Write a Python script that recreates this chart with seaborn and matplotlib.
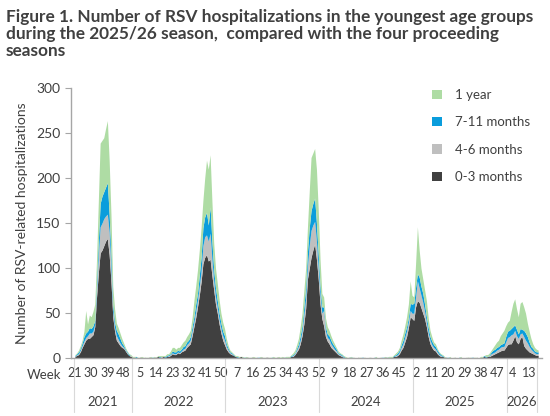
import numpy as np
import pandas as pd
import seaborn as sns
import matplotlib.pyplot as plt
import matplotlib.transforms as mtransforms
from matplotlib.patches import Patch

# weekly counts, 2021 w21 -> 2026 w17 (one value per week)
# season 2021 (w21-w52)
m0_3_a = [2, 3, 4, 7, 12, 16, 20, 22, 22, 24, 26, 35, 68, 95, 117, 120, 125, 130, 133, 115, 85, 46, 30, 20, 17, 14, 12, 11, 8, 5, 3, 2]
m4_6_a = [0, 1, 1, 2, 2, 3, 3, 3, 6, 4, 4, 3, 8, 20, 29, 30, 30, 28, 27, 25, 15, 6, 4, 5, 4, 3, 2, 1, 1, 1, 0, 1]
m7_11_a = [1, 1, 2, 2, 3, 5, 5, 5, 6, 5, 6, 4, 9, 15, 26, 30, 30, 32, 35, 20, 15, 8, 6, 6, 6, 5, 3, 2, 1, 1, 1, 0]
y1_a = [1, 1, 2, 3, 3, 6, 25, 8, 14, 13, 16, 18, 25, 45, 67, 62, 60, 65, 69, 60, 45, 20, 15, 8, 7, 6, 5, 3, 2, 1, 1, 1]

# 2022 w1-w28 (off season)
m0_3_b = [1, 1, 1, 0, 1, 1, 0, 1, 0, 1, 1, 0, 1, 1, 2, 1, 1, 2, 1, 2, 2, 3, 5, 4, 4, 6, 5, 7]
m4_6_b = [0, 0, 0, 0, 0, 0, 0, 0, 0, 0, 0, 0, 0, 0, 0, 0, 1, 0, 0, 0, 1, 1, 1, 1, 1, 1, 1, 1]
m7_11_b = [0, 0, 1, 0, 0, 0, 0, 0, 0, 0, 0, 1, 0, 0, 0, 1, 0, 0, 1, 1, 1, 1, 2, 2, 2, 2, 2, 2]
y1_b = [1, 1, 0, 1, 0, 1, 1, 0, 1, 0, 1, 0, 1, 0, 1, 1, 1, 1, 1, 2, 1, 3, 4, 5, 3, 3, 4, 5]

# season 2022 (2022 w29 - 2023 w5)
m0_3_c = [8, 9, 12, 14, 16, 25, 35, 45, 57, 70, 85, 105, 112, 115, 108, 110, 92, 76, 60, 50, 38, 28, 20, 15, 10, 7, 5, 4, 3]
m4_6_c = [2, 2, 3, 3, 4, 5, 5, 7, 7, 10, 12, 20, 23, 22, 22, 29, 18, 10, 8, 6, 5, 5, 5, 5, 3, 2, 1, 1, 0]
m7_11_c = [3, 3, 3, 3, 4, 5, 6, 8, 8, 12, 15, 20, 22, 25, 18, 29, 20, 12, 10, 8, 7, 6, 5, 5, 3, 2, 1, 1, 1]
y1_c = [5, 6, 6, 7, 7, 10, 18, 20, 26, 28, 33, 30, 43, 58, 62, 58, 45, 30, 22, 19, 15, 11, 10, 8, 6, 3, 2, 1, 1]

# 2023 w6-w38 (off season)
m0_3_d = [2, 1, 1, 2, 1, 0, 1, 1, 0, 1, 1, 0, 1, 0, 1, 1, 0, 1, 1, 0, 0, 1, 0, 1, 1, 0, 1, 1, 0, 1, 1, 2, 2]
m4_6_d = [0, 0, 0, 0, 0, 0, 0, 0, 0, 0, 0, 0, 0, 0, 0, 0, 0, 0, 0, 0, 0, 0, 0, 0, 0, 0, 0, 0, 0, 0, 0, 0, 1]
m7_11_d = [0, 1, 0, 0, 0, 1, 0, 0, 0, 0, 0, 0, 0, 1, 0, 0, 0, 0, 0, 0, 1, 0, 0, 0, 0, 0, 0, 0, 1, 0, 0, 1, 1]
y1_d = [1, 1, 1, 0, 1, 0, 1, 0, 1, 0, 1, 1, 0, 0, 1, 0, 1, 0, 0, 1, 0, 1, 1, 0, 1, 1, 1, 0, 1, 1, 1, 1, 2]

# season 2023 (2023 w39 - 2024 w13)
m0_3_e = [4, 7, 10, 16, 25, 38, 55, 88, 100, 112, 120, 127, 110, 88, 60, 44, 36, 24, 19, 16, 12, 10, 8, 6, 4, 3, 2]
m4_6_e = [1, 2, 3, 4, 5, 10, 11, 14, 25, 30, 28, 25, 20, 12, 10, 6, 17, 6, 4, 5, 4, 3, 2, 2, 1, 1, 1]
m7_11_e = [1, 2, 3, 5, 6, 9, 12, 16, 20, 22, 24, 26, 20, 15, 10, 7, 4, 5, 4, 4, 4, 3, 3, 2, 1, 1, 1]
y1_e = [3, 4, 6, 10, 14, 18, 22, 27, 40, 59, 56, 55, 60, 50, 30, 15, 11, 10, 8, 6, 5, 4, 3, 2, 2, 1, 1]

# 2024 w14-w43 (off season)
m0_3_f = [1, 1, 0, 1, 0, 1, 0, 0, 1, 0, 0, 1, 0, 0, 0, 1, 0, 0, 1, 0, 0, 1, 0, 1, 1, 0, 1, 1, 2, 2]
m4_6_f = [0, 0, 0, 0, 0, 0, 0, 0, 0, 0, 0, 0, 0, 0, 0, 0, 0, 0, 0, 0, 0, 0, 0, 0, 0, 0, 0, 0, 0, 1]
m7_11_f = [1, 0, 0, 0, 1, 0, 0, 0, 0, 0, 1, 0, 0, 0, 0, 0, 0, 1, 0, 0, 0, 0, 1, 0, 0, 1, 0, 0, 1, 1]
y1_f = [1, 1, 1, 0, 1, 0, 1, 0, 0, 1, 0, 0, 1, 0, 1, 0, 0, 0, 1, 0, 1, 0, 0, 1, 0, 1, 1, 1, 1, 2]

# season 2024 (2024 w44 - 2025 w17)
m0_3_g = [3, 5, 9, 12, 18, 24, 34, 46, 44, 42, 57, 64, 62, 56, 50, 44, 35, 24, 16, 12, 9, 8, 5, 3, 2, 2]
m4_6_g = [1, 2, 3, 4, 5, 6, 6, 7, 6, 8, 11, 22, 16, 14, 12, 8, 5, 4, 4, 3, 3, 2, 2, 1, 1, 0]
m7_11_g = [2, 2, 3, 4, 5, 5, 5, 8, 10, 11, 11, 8, 12, 10, 10, 8, 6, 6, 4, 4, 3, 3, 2, 2, 1, 1]
y1_g = [2, 3, 5, 7, 8, 11, 15, 25, 10, 7, 26, 52, 30, 20, 16, 16, 18, 11, 7, 5, 3, 3, 2, 1, 1, 1]

# 2025 w18-w43 (off season)
m0_3_h = [1, 1, 0, 1, 0, 0, 1, 0, 0, 1, 0, 0, 0, 1, 0, 0, 1, 0, 1, 0, 1, 1, 2, 1, 2, 2]
m4_6_h = [0, 0, 0, 0, 0, 0, 0, 0, 0, 0, 0, 0, 0, 0, 0, 0, 0, 0, 0, 0, 0, 0, 0, 0, 0, 1]
m7_11_h = [0, 0, 1, 0, 0, 0, 0, 0, 1, 0, 0, 0, 0, 0, 0, 1, 0, 0, 0, 0, 0, 0, 1, 1, 0, 1]
y1_h = [1, 0, 0, 1, 0, 1, 0, 0, 0, 1, 0, 0, 1, 0, 1, 0, 0, 1, 0, 0, 1, 1, 0, 2, 2, 2]

# season 2025 (2025 w44 - 2026 w17)
m0_3_i = [3, 4, 5, 6, 7, 8, 9, 9, 12, 15, 16, 16, 20, 25, 18, 16, 22, 24, 14, 11, 9, 7, 6, 5, 4, 3, 3]
m4_6_i = [2, 2, 2, 3, 3, 4, 4, 4, 6, 8, 8, 10, 7, 6, 7, 6, 5, 4, 10, 9, 8, 6, 4, 3, 2, 2, 2]
m7_11_i = [2, 3, 3, 3, 3, 3, 3, 4, 6, 7, 7, 7, 8, 6, 7, 5, 6, 4, 7, 8, 7, 5, 3, 3, 2, 2, 2]
y1_i = [2, 3, 5, 6, 7, 10, 12, 14, 12, 10, 11, 19, 26, 29, 23, 19, 28, 31, 26, 22, 15, 12, 9, 5, 4, 3, 2]

m0_3 = m0_3_a + m0_3_b + m0_3_c + m0_3_d + m0_3_e + m0_3_f + m0_3_g + m0_3_h + m0_3_i
m4_6 = m4_6_a + m4_6_b + m4_6_c + m4_6_d + m4_6_e + m4_6_f + m4_6_g + m4_6_h + m4_6_i
m7_11 = m7_11_a + m7_11_b + m7_11_c + m7_11_d + m7_11_e + m7_11_f + m7_11_g + m7_11_h + m7_11_i
y1 = y1_a + y1_b + y1_c + y1_d + y1_e + y1_f + y1_g + y1_h + y1_i

week_labels = ['21', '30', '39', '48', '5', '14', '23', '32', '41', '50', '7', '16', '25', '34', '43',
               '52', '9', '18', '27', '36', '45', '2', '11', '20', '29', '38', '47', '4', '13']
year_labels = ['2021', '2022', '2023', '2024', '2025', '2026']
weeks_per_year = [32, 52, 52, 52, 52, 17]
series_names = ['0-3 months', '4-6 months', '7-11 months', '1 year']
colors = ['#404040', '#bfbfbf', '#0a9ddc', '#aedca4']

df = pd.DataFrame({'0-3 months': m0_3, '4-6 months': m4_6, '7-11 months': m7_11, '1 year': y1})
df['idx'] = np.arange(len(df))

sns.set_style('white')
plt.rcParams['font.family'] = ['Lato', 'DejaVu Sans']
txt = '#404040'

fig = plt.figure(figsize=(5.5, 4.16), dpi=100)
ax = fig.add_axes([0.129, 0.139, 0.856, 0.649])

ax.stackplot(df['idx'], *[df[s] for s in series_names], colors=colors, linewidth=0)

n = len(df)
ax.set_xlim(-2.2, n + 1)
ax.set_ylim(0, 300)
ax.set_yticks(range(0, 301, 50))
ax.tick_params(axis='y', labelsize=10, colors='#a6a6a6', labelcolor=txt, length=4, width=0.8, direction='out', left=True)
ax.set_xticks(range(0, 9 * len(week_labels), 9))
ax.set_xticklabels(week_labels)
ax.tick_params(axis='x', labelsize=9, length=0, labelcolor=txt, pad=6)
for s in ['top', 'right']:
    ax.spines[s].set_visible(False)
for s in ['left', 'bottom']:
    ax.spines[s].set_color('#a6a6a6')
    ax.spines[s].set_linewidth(1.0)

ax.set_ylabel('Number of RSV-related hospitalizations', fontsize=10, color=txt, labelpad=6)

trans = mtransforms.blended_transform_factory(ax.transData, ax.transAxes)
ax.text(-7.5, -0.063, 'Week', transform=trans, ha='right', va='center', fontsize=9.5, color=txt)
start = 0
bounds = [-0.5]
for yl, w in zip(year_labels, weeks_per_year):
    end = start + w
    ax.text((start + end - 1) / 2, -0.163, yl, transform=trans, ha='center', va='center', fontsize=9.5, color=txt)
    bounds.append(end - 0.5)
    start = end
for b in bounds:
    ax.plot([b, b], [0, -0.2], transform=trans, color='#d9d9d9', lw=0.8, clip_on=False)

handles = [Patch(facecolor=c, edgecolor='none') for c in colors][::-1]
ax.legend(handles, series_names[::-1], loc='upper right', bbox_to_anchor=(1.0, 1.04), frameon=False,
          fontsize=9.5, labelcolor=txt, handlelength=0.7, handleheight=0.7, labelspacing=1.15, handletextpad=1.0)

fig.text(0.01, 0.978, 'Figure 1. Number of RSV hospitalizations in the youngest age groups\n'
                      'during the 2025/26 season,  compared with the four proceeding\nseasons',
         ha='left', va='top', fontsize=12.4, fontweight='bold', color='#404040', linespacing=1.07)

fig.savefig('out.png', dpi=100)
